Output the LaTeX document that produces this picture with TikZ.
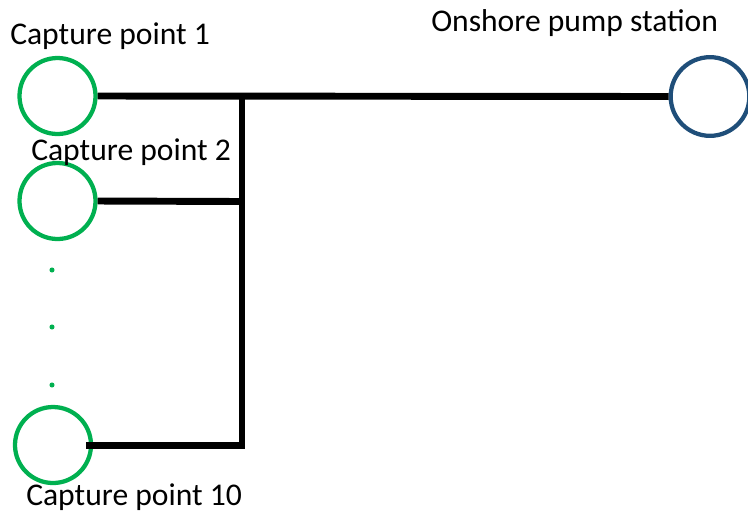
\documentclass[tikz,border=0pt]{standalone}
\usepackage{fontspec}
\setmainfont{Carlito}
\definecolor{capgreen}{RGB}{0,176,80}
\definecolor{pumpblue}{RGB}{31,78,121}
\begin{document}
\begin{tikzpicture}[x=0.75pt,y=-0.75pt,
  capture/.style={circle,draw=capgreen,line width=3.2pt,minimum size=57pt,inner sep=0pt},
  pump/.style={circle,draw=pumpblue,line width=3.2pt,minimum size=59pt,inner sep=0pt},
  pipe/.style={line width=5.2pt,black,line join=miter},
  lbl/.style={font=\fontsize{23.7}{28}\selectfont,inner sep=0pt},
  gap/.style={circle,fill=capgreen,inner sep=0pt,minimum size=3.8pt}]
\useasboundingbox (0,0) rectangle (748,512);
% capture points and pump station
\node[capture] (c1) at (57.5,96) {};
\node[capture] (c2) at (57.5,201) {};
\node[capture] (c10) at (53,445) {};
\node[pump] (ps) at (710,96.5) {};
% dots between point 2 and point 10
\node[gap] (d1) at (52,270) {};
\node[gap] (d2) at (52,327) {};
\node[gap] (d3) at (52,385) {};
% junctions on the collector line
\coordinate (j1) at (242,96);
\coordinate (j2) at (242,201.5);
\coordinate (j10) at (242,445.5);
% pipes
\draw[pipe] (c1.east) -- (ps.west);
\draw[pipe] (c2.east) -- (j2);
\draw[pipe] ([xshift=-5pt]c10.east |- j10) -- (j10) -- ([yshift=-2.6pt]j1);
% labels
\node[lbl,anchor=base west] (t1) at (10,44) {Capture point 1};
\node[lbl,anchor=base west] (t2) at (31,160) {Capture point 2};
\node[lbl,anchor=base west] (t10) at (26,505) {Capture point 10};
\node[lbl,anchor=base west] (tp) at (431,31) {Onshore pump station};
\end{tikzpicture}
\end{document}
